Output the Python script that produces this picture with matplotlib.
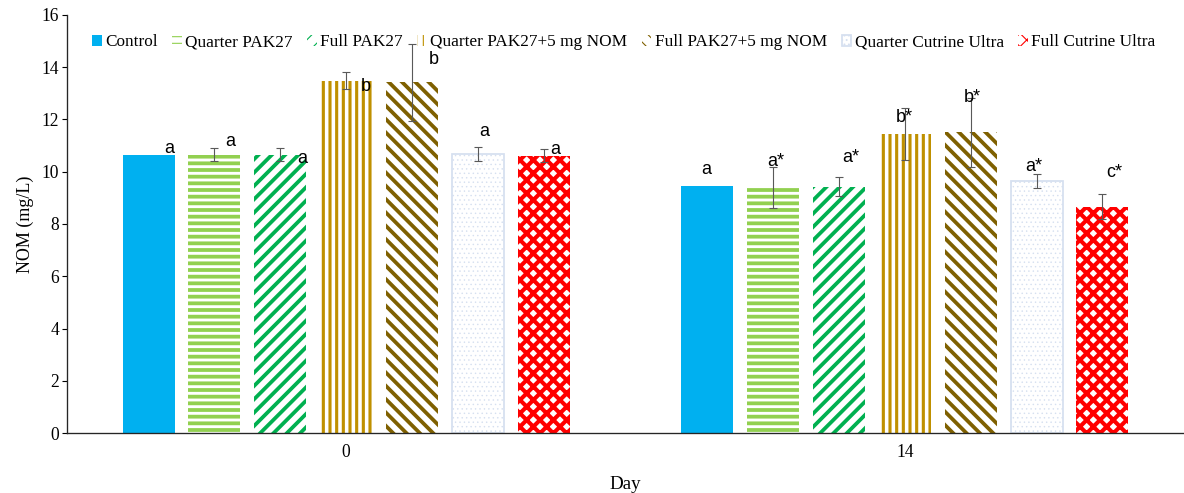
import matplotlib
matplotlib.use("Agg")
import matplotlib.pyplot as plt
import numpy as np

# data
days = ["0", "14"]
treatments = ["Control", "Quarter PAK27", "Full PAK27", "Quarter PAK27+5 mg NOM",
              "Full PAK27+5 mg NOM", "Quarter Cutrine Ultra", "Full Cutrine Ultra"]
means = {
    "Control":                [10.65, 9.46],
    "Quarter PAK27":          [10.66, 9.40],
    "Full PAK27":             [10.66, 9.42],
    "Quarter PAK27+5 mg NOM": [13.48, 11.45],
    "Full PAK27+5 mg NOM":    [13.42, 11.52],
    "Quarter Cutrine Ultra":  [10.68, 9.64],
    "Full Cutrine Ultra":     [10.62, 8.66],
}
errors = {
    "Control":                [0.0, 0.0],
    "Quarter PAK27":          [0.25, 0.79],
    "Full PAK27":             [0.25, 0.36],
    "Quarter PAK27+5 mg NOM": [0.33, 1.00],
    "Full PAK27+5 mg NOM":    [1.48, 1.32],
    "Quarter Cutrine Ultra":  [0.25, 0.27],
    "Full Cutrine Ultra":     [0.25, 0.48],
}
letters = {
    "Control":                ["a", "a"],
    "Quarter PAK27":          ["a", "a*"],
    "Full PAK27":             ["a", "a*"],
    "Quarter PAK27+5 mg NOM": ["b", "b*"],
    "Full PAK27+5 mg NOM":    ["b", "b*"],
    "Quarter Cutrine Ultra":  ["a", "a*"],
    "Full Cutrine Ultra":     ["a", "c*"],
}

# styling: (face, edge, hatch, hatch linewidth pt, edge linewidth)
styles = {
    "Control":                ("#00B0F0", "#00B0F0", None, 1.0, 0),
    "Quarter PAK27":          ("white", "#92D050", "--", 3.4, 0),
    "Full PAK27":             ("white", "#00B050", "//", 3.4, 0),
    "Quarter PAK27+5 mg NOM": ("white", "#BF9000", "||", 2.8, 0),
    "Full PAK27+5 mg NOM":    ("white", "#7F6000", "\\\\", 3.4, 0),
    "Quarter Cutrine Ultra":  ("white", "#D6E0F0", "...", 0.6, 1.6),
    "Full Cutrine Ultra":     ("white", "#FF0000", "xx", 3.7, 0),
}
# letter offsets from bar top (pixels: dx, dy)
letter_off = {
    "Control":                [(21, 6), (-1, 16)],
    "Quarter PAK27":          [(16, 13), (3, 26)],
    "Full PAK27":             [(22, -4), (12, 29)],
    "Quarter PAK27+5 mg NOM": [(20, -6), (0, 16)],
    "Full PAK27+5 mg NOM":    [(22, 23), (2, 35)],
    "Quarter Cutrine Ultra":  [(6, 22), (-3, 15)],
    "Full Cutrine Ultra":     [(11, 6), (12, 34)],
}

DPI = 80
PT = 72 / DPI  # points per pixel

plt.rcParams['font.family'] = ['Liberation Serif', 'DejaVu Serif']

fig = plt.figure(figsize=(1184 / DPI, 493 / DPI), dpi=DPI)
ax = fig.add_axes([67 / 1184, 60 / 493, 1117 / 1184, 418 / 493])

x = np.arange(len(days))
width = 0.093
step = 0.118

for i, t in enumerate(treatments):
    face, edge, hatch, hlw, elw = styles[t]
    pos = x + (i - 3) * step
    with plt.rc_context({'hatch.linewidth': hlw}):
        bars = ax.bar(pos, means[t], width, color=face, edgecolor=edge,
                      hatch=hatch, linewidth=elw, label=t, zorder=2)
    for b in bars:
        if hasattr(b, "set_hatch_linewidth"):
            b.set_hatch_linewidth(hlw)
    err = np.array(errors[t])
    mask = err > 0
    ax.errorbar(pos[mask], np.array(means[t])[mask], yerr=err[mask], fmt="none",
                ecolor="#595959", elinewidth=1.0, capsize=4 * PT, capthick=1.0, zorder=3)
    for j in range(len(days)):
        dx, dy = letter_off[t][j]
        ax.annotate(letters[t][j], xy=(pos[j], means[t][j]),
                    xytext=(dx * PT, dy * PT), textcoords="offset points",
                    ha="center", va="center", fontsize=18 * PT,
                    family=['Liberation Sans', 'DejaVu Sans'], color="black", zorder=4)

ax.set_xlim(-0.5, 1.5)
ax.set_ylim(0, 16)
ax.set_yticks(np.arange(0, 17, 2))
ax.set_xticks(x)
ax.set_xticklabels(days)
ax.tick_params(axis="x", length=0, pad=11 * PT, labelsize=17.5 * PT)
ax.tick_params(axis="y", length=5 * PT, width=1.0, direction="out", pad=3 * PT, labelsize=17.5 * PT)

for s in ["top", "right"]:
    ax.spines[s].set_visible(False)
for s in ["left", "bottom"]:
    ax.spines[s].set_color("#262626")
    ax.spines[s].set_linewidth(1.2)

ax.set_ylabel("NOM (mg/L)", fontsize=18 * PT, labelpad=7 * PT)
ax.set_xlabel("Day", fontsize=19 * PT, labelpad=15 * PT)

leg = ax.legend(loc="upper left", bbox_to_anchor=(0.0162, 0.97), ncol=7, frameon=False,
                fontsize=17.3 * PT, handlelength=0.55, handleheight=0.55, handletextpad=0.2,
                columnspacing=0.84, borderaxespad=0)

fig.savefig("out.png", dpi=DPI)
